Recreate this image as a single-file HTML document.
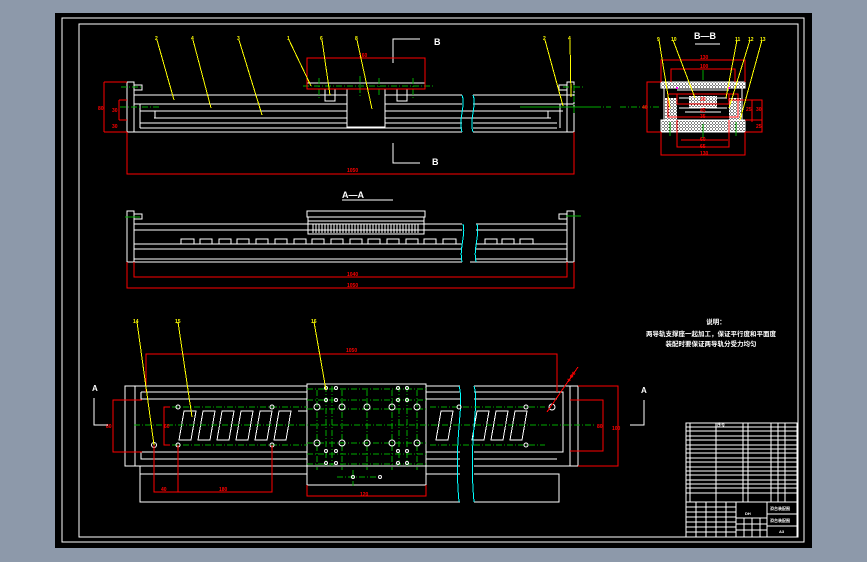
<!DOCTYPE html>
<html><head><meta charset="utf-8"><style>
html,body{margin:0;padding:0;width:867px;height:562px;overflow:hidden;background:#8d99aa}
svg{display:block}
svg path,svg rect,svg circle{stroke-width:1px;shape-rendering:crispEdges}
svg circle{shape-rendering:auto}
text{font-family:"Liberation Sans","Noto Sans CJK SC",sans-serif;font-weight:bold}
</style></head><body>
<svg width="867" height="562" viewBox="0 0 867 562" xmlns="http://www.w3.org/2000/svg">
<defs>
<pattern id="h" width="3" height="3" patternUnits="userSpaceOnUse"><rect width="3" height="3" fill="#000" stroke="none"/><path d="M0 3L3 0" stroke="#fff"/><path d="M0 0L3 3" stroke="#fff"/></pattern>
</defs>
<rect x="0" y="0" width="867" height="562" fill="#8d99aa"/>
<rect x="55" y="13" width="757" height="535" fill="#000"/>
<rect x="62" y="18" width="742" height="524" fill="none" stroke="#fff"/>
<rect x="79" y="24" width="719" height="513" fill="none" stroke="#fff"/>

<!-- ===== TOP VIEW ===== -->
<g fill="none" stroke="#fff">
<rect x="127" y="82" width="7" height="50"/>
<path d="M134 85h8v5h-8"/>
<path d="M134 95h328M134 104h328M140 111h322M154 118h308M140 123h322M140 128h322M127 132h335"/>
<path d="M473 95h101M473 104h101M473 111h90M473 118h78M473 123h84M473 128h84M473 132h101"/>
<rect x="155" y="111" width="393" height="7"/>
<path d="M140 104v24M560 104v24"/>
<rect x="567" y="82" width="7" height="50"/>
<path d="M567 85h-8v5h8"/>
<rect x="307" y="83" width="118" height="6"/>
<rect x="347" y="89" width="38" height="38" fill="#000"/>
<rect x="325" y="89" width="10" height="12"/>
<rect x="397" y="89" width="10" height="12"/>
<path d="M393 63V39h27M393 143v20h27"/>
</g>
<text x="434" y="45" fill="#fff" font-size="9">B</text>
<text x="432" y="165" fill="#fff" font-size="9">B</text>
<path d="M462 95c4 10-4 25 0 37M473 95c4 10-4 25 0 37" stroke="#0ff" fill="none"/>
<g stroke="#0a0" stroke-dasharray="6 2 1 2" fill="none">
<path d="M120 107h40M303 86h130M551 107h60M121 87h20M563 87h20M620 107h40"/>
<path d="M319 78v20M360 76v20M379 78v18M413 78v20M574 85v30"/>
</g>
<g stroke="#f00" fill="none">
<rect x="307" y="58" width="118" height="31"/>
<path d="M127 132v42h447v-42M104 82h23M104 132h23M104 82v50M119 100h8M119 120h8M119 100v20"/>
</g>
<text x="359" y="57" fill="#f00" font-size="5">160</text>
<text x="347" y="172" fill="#f00" font-size="5">1050</text>
<text x="98" y="110" fill="#f00" font-size="5">80</text>
<text x="112" y="112" fill="#f00" font-size="5">30</text>
<text x="112" y="128" fill="#f00" font-size="5">30</text>
<g stroke="#ff0">
<path d="M157 40L174 100M193 40L211 108M239 40L262 115M289 40L311 86M322 40L330 95M357 40L372 109M545 40L563 106M570 40L571 97"/>
</g>
<g fill="#ff0" font-size="5">
<text x="155" y="40">2</text><text x="191" y="40">4</text><text x="237" y="40">3</text><text x="287" y="40">1</text><text x="320" y="40">6</text><text x="355" y="40">8</text><text x="543" y="40">2</text><text x="568" y="40">4</text>
</g>

<!-- ===== A-A VIEW ===== -->
<text x="342" y="198" fill="#fff" font-size="9">A—A</text>
<path d="M342 200h51" stroke="#fff"/>
<g fill="none" stroke="#fff">
<rect x="127" y="211" width="7" height="51"/>
<path d="M134 214h8v5h-8M567 214h-8v5h8"/>
<rect x="567" y="211" width="7" height="51"/>
<path d="M134 224h328M134 230h328M134 244h328M134 249h328M134 259h328M127 262h335"/>
<path d="M476 224h91M476 230h91M476 244h91M476 249h91M476 259h91M470 262h97"/>
<rect x="307" y="211" width="118" height="6"/>
<rect x="308" y="217" width="116" height="17"/>
<path d="M308 221h116"/>
</g>
<g fill="none" stroke="#fff">
<path d="M313 233v-9h3v9M319 233v-9h3v9M325 233v-9h3v9M331 233v-9h3v9M337 233v-9h3v9M343 233v-9h3v9M349 233v-9h3v9M355 233v-9h3v9M361 233v-9h3v9M367 233v-9h3v9M373 233v-9h3v9M379 233v-9h3v9M385 233v-9h3v9M391 233v-9h3v9M397 233v-9h3v9M403 233v-9h3v9M409 233v-9h3v9M415 233v-9h3v9"/>
<path d="M181 244v-5h13v5M200 244v-5h12v5M219 244v-5h12v5M237 244v-5h12v5M256 244v-5h12v5M275 244v-5h12v5M294 244v-5h12v5M312 244v-5h12v5M331 244v-5h12v5M350 244v-5h12v5M368 244v-5h12v5M387 244v-5h12v5M406 244v-5h12v5M424 244v-5h12v5M443 244v-5h13v5M485 244v-5h12v5M502 244v-5h12v5M520 244v-5h13v5"/>
</g>
<path d="M463 224c3 10-4 25-1 38M477 224c3 10-4 25-1 38" stroke="#0ff" fill="none"/>
<path d="M125 217h15M566 216h15" stroke="#0a0"/>
<g stroke="#f00" fill="none">
<path d="M134 262v15h433v-15M127 262v26h447v-26"/>
</g>
<text x="347" y="276" fill="#f00" font-size="5">1040</text>
<text x="347" y="287" fill="#f00" font-size="5">1050</text>

<!-- ===== BOTTOM VIEW ===== -->
<g fill="none" stroke="#fff">
<path d="M460 386H125v80h335M474 386h104v80H474"/>
<path d="M135 386v80M141 392v7h319M141 392h319M141 452v7h319M141 452h319"/>
<path d="M474 392h89v60h-89M474 399h83M474 459h83"/>
<path d="M570 386v80"/>
<path d="M140 466v36h320M140 474h320M474 474h85v28h-85"/>
<rect x="307" y="384" width="119" height="101" fill="#000"/>
<path d="M307 466h119"/>
</g>
<g fill="none" stroke="#fff">
<path d="M184 411h12l-5 29h-12zM203 411h12l-5 29h-12zM222 411h12l-5 29h-12zM241 411h12l-5 29h-12zM260 411h12l-5 29h-12zM279 411h12l-5 29h-12zM298 411h9M441 411h12l-5 29h-12zM477 411h12l-5 29h-12zM496 411h12l-5 29h-12zM515 411h12l-5 29h-12z"/>
</g>
<path d="M459 386c6 20-6 50 0 116M474 386c6 20-6 50 0 116" stroke="#0ff" fill="none"/>
<g stroke="#0a0" stroke-dasharray="6 2 1 2" fill="none">
<path d="M134 425h460M172 407h135M430 407h115M172 445h135M430 445h115"/>
<path d="M307 389h119M307 400h119M307 409h119M307 443h119M307 454h119M307 464h119M337 477h40"/>
<path d="M317 390v80M326 386v80M332 386v80M342 390v80M367 390v80M392 390v80M399 386v80M407 386v80M417 390v80M353 470v16"/>
</g>
<g fill="none" stroke="#fff">
<circle cx="317" cy="407" r="3"/><circle cx="342" cy="407" r="3"/><circle cx="367" cy="407" r="3"/><circle cx="392" cy="407" r="3"/><circle cx="417" cy="407" r="3"/>
<circle cx="317" cy="443" r="3"/><circle cx="342" cy="443" r="3"/><circle cx="367" cy="443" r="3"/><circle cx="392" cy="443" r="3"/><circle cx="417" cy="443" r="3"/>
<circle cx="326" cy="388" r="1.5"/><circle cx="336" cy="388" r="1.5"/><circle cx="398" cy="388" r="1.5"/><circle cx="407" cy="388" r="1.5"/>
<circle cx="326" cy="400" r="1.5"/><circle cx="336" cy="400" r="1.5"/><circle cx="398" cy="400" r="1.5"/><circle cx="407" cy="400" r="1.5"/>
<circle cx="326" cy="451" r="1.5"/><circle cx="336" cy="451" r="1.5"/><circle cx="398" cy="451" r="1.5"/><circle cx="407" cy="451" r="1.5"/>
<circle cx="326" cy="463" r="1.5"/><circle cx="336" cy="463" r="1.5"/><circle cx="398" cy="463" r="1.5"/><circle cx="407" cy="463" r="1.5"/>
<circle cx="353" cy="477" r="1.5"/><circle cx="380" cy="477" r="1.5"/>
<circle cx="178" cy="407" r="2"/><circle cx="272" cy="407" r="2"/><circle cx="459" cy="407" r="2"/><circle cx="526" cy="407" r="2"/><circle cx="552" cy="407" r="3"/>
<circle cx="154" cy="445" r="2.5"/><circle cx="178" cy="445" r="2"/><circle cx="272" cy="445" r="2"/><circle cx="526" cy="445" r="2"/>
</g>
<g stroke="#f00" fill="none">
<path d="M146 392v-38h411v38"/>
<path d="M142 400h-29v52h29"/>
<path d="M170 407h-6v38h6"/>
<path d="M154 445v47h118v-47M178 445v47"/>
<path d="M307 485v11h119v-11"/>
<path d="M570 400h33v51h-33M578 386h40v80h-40"/>
<path d="M547 412l31-45"/>
</g>
<g fill="#f00" font-size="5">
<text x="346" y="352">1050</text><text x="161" y="491">40</text><text x="219" y="491">180</text><text x="360" y="496">120</text>
<text x="106" y="428">80</text><text x="164" y="428">60</text><text x="597" y="428">80</text><text x="612" y="430">100</text>
<text x="566" y="380" transform="rotate(-55 570 378)">4-Φ9</text>
</g>
<g stroke="#fff" fill="none"><path d="M94 398v27h14M644 400v25h-14"/></g>
<text x="92" y="391" fill="#fff" font-size="8">A</text>
<text x="641" y="393" fill="#fff" font-size="8">A</text>
<g stroke="#ff0"><path d="M137 322L154 445M178 322L192 417M314 322L326 390"/></g>
<g fill="#ff0" font-size="5"><text x="133" y="323">14</text><text x="175" y="323">15</text><text x="311" y="323">16</text></g>

<!-- ===== NOTES ===== -->
<g fill="#fff" font-size="6.5" text-anchor="middle">
<text x="716" y="324">说明：</text>
<text x="711" y="336">两导轨支撑座一起加工，保证平行度和平面度</text>
<text x="711" y="346">装配时要保证两导轨分受力均匀</text>
</g>

<!-- ===== SECTION B-B ===== -->
<text x="694" y="39" fill="#fff" font-size="9">B—B</text>
<path d="M695 44h25" stroke="#fff"/>
<rect x="661" y="82" width="84" height="6" fill="url(#h)" stroke="#fff"/>
<rect x="661" y="120" width="84" height="12" fill="url(#h)" stroke="#fff"/>
<rect x="665" y="98" width="12" height="22" fill="url(#h)"/>
<rect x="729" y="98" width="12" height="22" fill="url(#h)"/>
<rect x="689" y="96" width="28" height="12" fill="url(#h)"/>
<g fill="none" stroke="#fff">
<path d="M664 88v32M742 88v32M677 90h52M679 98h48M679 108h48M685 112h36M677 120h52"/>
</g>
<g stroke="#0a0"><path d="M703 70v10M703 124v14M670 122v14M736 122v14M520 107h80"/></g>
<rect x="676" y="87" width="2" height="2" fill="#f0f"/><rect x="728" y="87" width="2" height="2" fill="#f0f"/>
<g stroke="#f00" fill="none">
<path d="M661 82V60h84v22M671 82V69h64v13"/>
<path d="M661 82h-14v50h14"/>
<rect x="668" y="94" width="70" height="23"/>
<rect x="677" y="94" width="52" height="10"/>
<path d="M728 100h34v32h-17M752 100v22M745 120h17"/>
<path d="M661 132v23h84v-23M677 120v27h52v-27M681 140h47"/>
</g>
<g fill="#f00" font-size="5">
<text x="700" y="59">130</text><text x="700" y="68">100</text><text x="700" y="101">30</text><text x="700" y="112">45</text><text x="700" y="118">35</text><text x="700" y="141">60</text><text x="700" y="148">65</text><text x="700" y="155">130</text><text x="642" y="109">46</text><text x="746" y="111">25</text><text x="756" y="111">30</text><text x="756" y="128">25</text>
</g>
<g stroke="#ff0"><path d="M659 40L670 108M673 40L695 98M737 40L726 98M750 40L729 108M762 40L740 120"/></g>
<g fill="#ff0" font-size="5"><text x="657" y="41">9</text><text x="671" y="41">10</text><text x="735" y="41">11</text><text x="748" y="41">12</text><text x="760" y="41">13</text></g>

<!-- ===== TITLE BLOCK ===== -->
<g fill="none" stroke="#fff">
<rect x="686" y="423" width="111" height="114"/>
<path d="M686 427h111M686 431h111M686 436h111M686 440h111M686 445h111M686 449h111M686 453h111M686 458h111M686 462h111M686 467h111M686 471h111M686 475h111M686 480h111M686 484h111M686 488h111M686 493h111M686 502h111"/>
<path d="M690 423v79M716 423v79M743 423v79M748 423v79M771 423v79M778 423v79M785 423v79"/>
<path d="M686 507h50M686 512h50M686 517h50M686 522h50M686 527h50M686 532h50M696 502v35M706 502v35M716 502v35M726 502v35M736 502v35"/>
<rect x="736" y="502" width="31" height="16"/>
<path d="M767 502v35M767 514h30M767 526h30M736 524h31M736 530h31M744 518v19M752 518v19M760 518v19"/>
</g>
<g fill="#fff" font-size="4">
<text x="717" y="426">序号</text><text x="745" y="515">DH</text><text x="770" y="510">滑台装配图</text><text x="770" y="522">滑台装配图</text><text x="779" y="533">A3</text>
</g>
</svg>
</body></html>
